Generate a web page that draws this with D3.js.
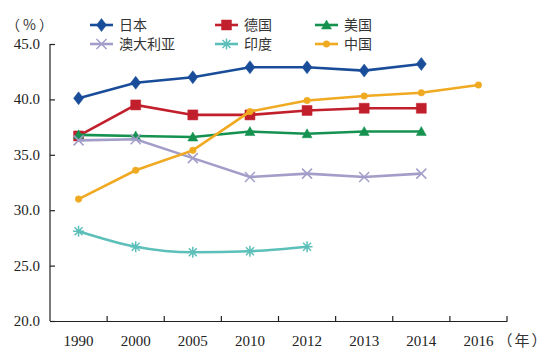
<!DOCTYPE html>
<html><head><meta charset="utf-8">
<script src="https://cdn.jsdelivr.net/npm/d3@7"></script>
<style>body{margin:0;background:#fff}</style>
</head><body><svg id="c" width="549" height="357"></svg>
<script>
const years = ["1990","2000","2005","2010","2012","2013","2014","2016"];
const yTicks = [20,25,30,35,40,45];
const names = ["日本","德国","美国","澳大利亚","印度","中国"];
const japan     = [40.1,41.5,42.0,42.9,42.9,42.6,43.2,null];
const germany   = [36.7,39.5,38.6,38.6,39.0,39.2,39.2,null];
const usa       = [36.8,36.7,36.6,37.1,36.9,37.1,37.1,null];
const australia = [36.3,36.4,34.7,33.0,33.3,33.0,33.3,null];
const india     = [28.1,26.7,26.2,26.3,26.7,null,null,null];
const china     = [31.0,33.6,35.4,38.9,39.9,40.3,40.6,41.3];

const series = [
  {name:names[0], vals:japan, color:"#1a4d99", sym:"diamond"},
  {name:names[1], vals:germany, color:"#c21f2d", sym:"square"},
  {name:names[2], vals:usa, color:"#169250", sym:"triangle"},
  {name:names[3], vals:australia, color:"#a29dc9", sym:"x"},
  {name:names[4], vals:india, color:"#5cbfb9", sym:"asterisk", curve:true},
  {name:names[5], vals:china, color:"#f0aa22", sym:"circle"}
];

const svg = d3.select("#c");
const L=50, R=507, T=44, B=321;
const x = d3.scaleBand().domain(years).range([L,R]);
const y = d3.scaleLinear().domain([20,45]).range([B,T]);
const serif = "'Liberation Serif','Times New Roman',serif";
const cjk = "'Noto Sans CJK SC',sans-serif";

// axes
const xa = svg.append("g").attr("transform",`translate(0,${B})`)
  .call(d3.axisBottom(x).tickValues([]).tickSize(0));
xa.select(".domain").attr("stroke","#222").attr("stroke-width",1.2);
const xb = d3.range(years.length+1).map(i=>L+i*x.bandwidth());
svg.append("g").selectAll("line").data(xb.slice(1)).join("line")
  .attr("x1",d=>d).attr("x2",d=>d).attr("y1",B).attr("y2",B-5)
  .attr("stroke","#222").attr("stroke-width",1.2);
svg.append("g").selectAll("text").data(years).join("text")
  .attr("x",d=>x(d)+x.bandwidth()/2).attr("y",B+25)
  .attr("text-anchor","middle").attr("font-family",serif).attr("font-size",15)
  .attr("fill","#222").text(d=>d);

const ya = svg.append("g").attr("transform",`translate(${L},0)`)
  .call(d3.axisRight(y).tickValues(yTicks).tickSize(5).tickFormat(""));
ya.select(".domain").attr("stroke","#222").attr("stroke-width",1.2).attr("d",`M0,${B}V${T}`);
ya.selectAll(".tick line").attr("stroke","#222").attr("stroke-width",1.2);
svg.append("g").selectAll("text").data(yTicks).join("text")
  .attr("x",L-10).attr("y",d=>y(d)+5).attr("text-anchor","end")
  .attr("font-family",serif).attr("font-size",15).attr("fill","#222")
  .text(d=>d.toFixed(1));
svg.append("text").attr("x",31).attr("y",30).attr("text-anchor","middle")
  .attr("font-family",cjk).attr("font-size",14).attr("letter-spacing",3).attr("fill","#333").text("（%）");
svg.append("text").attr("x",523).attr("y",B+25).attr("text-anchor","middle")
  .attr("font-family",cjk).attr("font-size",15).attr("letter-spacing",2).attr("fill","#333").text("（年）");

function symPath(sym){
  switch(sym){
    case "diamond": return "M0,-6.5L5,0L0,6.5L-5,0Z";
    case "square": return "M-5,-5H5V5H-5Z";
    case "triangle": return "M0,-5L5,4H-5Z";
    case "circle": return d3.symbol(d3.symbolCircle,34)();
    case "x": return "M-5,-5L5,5M5,-5L-5,5";
    case "asterisk": return "M-4,-4L4,4M4,-4L-4,4M0,-5.5V5.5M-5.5,0H5.5";
  }
}
function drawMarker(g, sym, color, cx, cy){
  const stroked = sym==="x"||sym==="asterisk";
  g.append("path").attr("d",symPath(sym)).attr("transform",`translate(${cx},${cy})`)
    .attr("fill",stroked?"none":color).attr("stroke",color)
    .attr("stroke-width",stroked?1.5:0.5);
}

const cx = d=>x(d.year)+x.bandwidth()/2;
series.forEach(s=>{
  const pts = years.map((yr,i)=>({year:yr,v:s.vals[i]})).filter(d=>d.v!=null);
  const line = d3.line().x(cx).y(d=>y(d.v)).curve(s.curve?d3.curveMonotoneX:d3.curveLinear);
  const g = svg.append("g");
  g.append("path").datum(pts).attr("d",line).attr("fill","none")
    .attr("stroke",s.color).attr("stroke-width",2.6);
  pts.forEach(d=>drawMarker(g,s.sym,s.color,cx(d),y(d.v)));
});

// legend
const lx=[90,215,315], ly=[25,44];
series.forEach((s,i)=>{
  const X=lx[i%3], Y=ly[Math.floor(i/3)];
  const g=svg.append("g");
  g.append("line").attr("x1",X).attr("x2",X+23).attr("y1",Y).attr("y2",Y)
    .attr("stroke",s.color).attr("stroke-width",2.6);
  drawMarker(g,s.sym,s.color,X+11.5,Y);
  g.append("text").attr("x",X+29).attr("y",Y+5).attr("font-family",cjk)
    .attr("font-size",14).attr("fill","#333").text(s.name);
});
</script></body></html>
